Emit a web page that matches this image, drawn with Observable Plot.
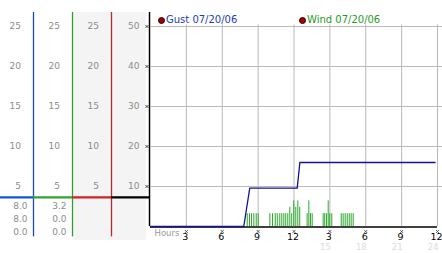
<!DOCTYPE html>
<html><head><meta charset="utf-8">
<script src="https://cdn.jsdelivr.net/npm/d3@7"></script>
<script src="https://cdn.jsdelivr.net/npm/@observablehq/plot@0.6"></script>
<style>
body{margin:0;background:#fff;}
#wrap{position:relative;width:442px;height:253px;overflow:hidden;font-family:"DejaVu Sans",Verdana,sans-serif;background:#fff;}
#wrap svg{position:absolute;left:0;top:0;background:transparent;}
.leg{position:absolute;top:13px;font-size:10px;line-height:14px;white-space:nowrap;display:flex;align-items:center;}
.leg i{display:inline-block;width:7px;height:7px;border-radius:50%;background:#a00000;border:1px solid #300;margin-right:1px;box-sizing:border-box;}
</style></head><body><div id="wrap"></div>
<script>
// ---- data ----
const gustHours  = [0, 7.8, 8.3, 12.27, 12.49, 23.8];
const gustValues = [0, 0, 9.6, 9.6, 16.0, 16.0];

const windHours = [
  8.09, 8.28, 8.45, 8.64, 8.84, 9.01,
  9.98, 10.2, 10.43, 10.6, 10.81, 10.98, 11.15, 11.31, 11.48, 11.65, 11.81, 11.98, 12.15, 12.32, 12.48,
  13.1, 13.24, 13.38, 13.52,
  14.44, 14.57, 14.72, 14.86, 14.99, 15.16,
  15.95, 16.11, 16.28, 16.45, 16.62, 16.78, 16.95
];
const windValues = [
  3.2, 3.2, 3.2, 3.2, 3.2, 3.2,
  3.2, 3.2, 3.2, 3.2, 3.2, 3.2, 3.2, 3.2, 3.2, 4.8, 3.2, 6.4, 4.8, 6.4, 4.8,
  3.2, 6.4, 3.2, 3.2,
  3.2, 3.2, 3.2, 6.4, 3.2, 3.2,
  3.2, 3.2, 3.2, 3.2, 3.2, 3.2, 3.2
];

const hourTicks  = [3, 6, 9, 12, 15, 18, 21, 24];
const hourLabels = ["3", "6", "9", "12", "3", "6", "9", "12"];
const lateTicks  = [15, 18, 21, 24];
const lateLabels = ["15", "18", "21", "24"];
const speedTicks = [10, 20, 30, 40, 50];
const halfTicks  = [5, 10, 15, 20, 25];
const panelColumns = [1, 2, 3];
const gustReadings = ["8.0", "8.0", "0.0"];
const windReadings = ["3.2", "0.0", "0.0"];
const markerLevel = 7.3;
const legendLabels = ["Gust 07/20/06", "Wind 07/20/06"];

// ---- styles ----
const colColors = ["#1f47b8", "#2f9f2f", "#b52a2a"];
const segColors = ["#1456d6", "#2ea52e", "#d42020", "#000"];
const labelGray = "#8c8c8c";
const font = "DejaVu Sans, Verdana, sans-serif";

const gust = gustHours.map((h, i) => ({h, v: gustValues[i]}));
const wind = windHours.map((h, i) => ({h, v: windValues[i]}));

const main = Plot.plot({
  width: 442, height: 253,
  marginLeft: 150, marginRight: 5, marginTop: 26, marginBottom: 27,
  style: {background: "transparent", fontFamily: font, overflow: "visible"},
  x: {domain: [0, 24], axis: null},
  y: {domain: [0, 50], axis: null},
  marks: [
    Plot.ruleY(speedTicks, {x1: 0, x2: 24.45, stroke: "#b9b9b9", strokeWidth: 1}),
    Plot.ruleX(hourTicks, {y1: 0, y2: 50.4, stroke: "#b9b9b9", strokeWidth: 1}),
    Plot.ruleY([0], {x1: 0, x2: 24, stroke: "#000", strokeWidth: 1.6, dy: 0.5}),
    Plot.ruleX(wind, {x: "h", y1: 0, y2: "v", stroke: "#2aa82a", strokeWidth: 1}),
    Plot.line(gust, {x: "h", y: "v", stroke: "#12129a", strokeWidth: 1.3}),
    Plot.dot(hourTicks, {x: d => d, y: 0, dy: 5, symbol: "times", r: 1.4, stroke: "#555", strokeWidth: 1}),
    Plot.text(hourTicks, {x: d => d, y: 0, dy: 10.5, dx: -1, text: (d, i) => hourLabels[i], fontSize: 9.5, fill: "#000"}),
    Plot.text(lateTicks, {x: d => d, y: 0, dy: 21, dx: 1, textAnchor: "end", text: (d, i) => lateLabels[i], fontSize: 8.5, fill: "#dcdcdc"}),
    Plot.text(["Hours"], {x: 0, y: 0, dy: 6.5, dx: 4, textAnchor: "start", fontSize: 8.5, fill: "#999"})
  ]
});

const boundaries = [{a: 6/39, b: 1}, {a: 1, b: 2}, {a: 2, b: 3}, {a: 3, b: 4}];
const leftMarks = [
  Plot.rect([0], {x1: 2.03, x2: 3.9, y1: -3.5, y2: 53.5, fill: "#f4f4f4"}),
  Plot.ruleX(panelColumns, {x: d => d, y1: -2.6, y2: 53.5, stroke: d => colColors[d - 1], strokeWidth: 1.3}),
  Plot.ruleX([4], {y1: 0, y2: 53.5, dx: -1, stroke: "#000", strokeWidth: 1.5}),
  Plot.ruleY(boundaries, {y: markerLevel, x1: "a", x2: "b", stroke: (d, i) => segColors[i], strokeWidth: 2.2}),
  Plot.text(speedTicks, {x: 4, dx: -11, y: d => d, text: d => String(d), textAnchor: "end", fontSize: 9, fill: labelGray}),
  Plot.dot(speedTicks, {x: 4, dx: -3.5, y: d => d, symbol: "times", r: 1.4, stroke: "#444", strokeWidth: 1})
];
for (const k of panelColumns) {
  leftMarks.push(Plot.text(halfTicks, {x: k, dx: -12.5, y: d => 2 * d, text: d => String(d), textAnchor: "end", fontSize: 9, fill: labelGray}));
}
gustReadings.forEach((r, i) => leftMarks.push(Plot.text([r], {x: 1, dx: -6, y: markerLevel, dy: 8.5 + 13.3 * i, text: d => d, textAnchor: "end", fontSize: 9, fill: labelGray})));
windReadings.forEach((r, i) => leftMarks.push(Plot.text([r], {x: 2, dx: -6, y: markerLevel, dy: 8.5 + 13.3 * i, text: d => d, textAnchor: "end", fontSize: 9, fill: labelGray})));

const left = Plot.plot({
  width: 150, height: 253,
  marginLeft: 0, marginRight: 0, marginTop: 26, marginBottom: 27,
  style: {background: "transparent", fontFamily: font, overflow: "visible"},
  color: {type: "identity"},
  x: {domain: [6/39, 4], axis: null},
  y: {domain: [0, 50], axis: null},
  marks: leftMarks
});

const wrap = document.getElementById("wrap");
wrap.appendChild(left);
wrap.appendChild(main);

const legendPos = [158, 299];
const legendColors = ["#1e3db5", "#1f9c1f"];
legendLabels.forEach((t, i) => {
  const d = document.createElement("div");
  d.className = "leg";
  d.style.left = legendPos[i] + "px";
  d.style.color = legendColors[i];
  d.innerHTML = "<i></i>" + t;
  wrap.appendChild(d);
});
</script></body></html>
